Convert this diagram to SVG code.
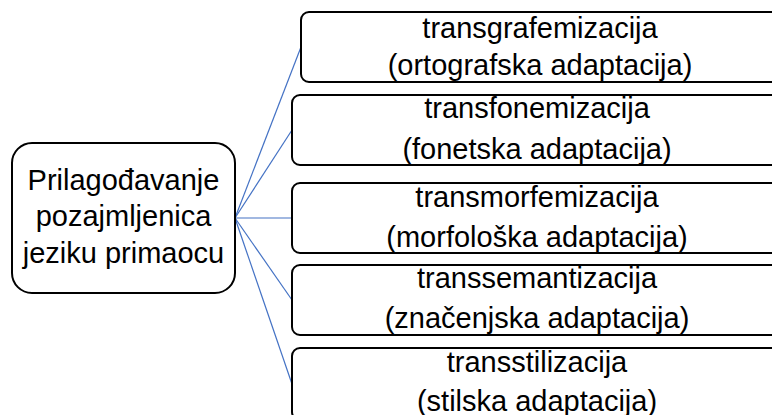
<svg xmlns="http://www.w3.org/2000/svg" width="772" height="415" viewBox="0 0 772 415">
<style>
.box{fill:#fff;stroke:#000;stroke-width:2}
.t{font-family:"Liberation Sans",Arial,sans-serif;font-size:29px;fill:#000;text-anchor:middle}
.c{stroke:#4472C4;stroke-width:1.2;fill:none}
</style>
<rect width="772" height="415" fill="#fff"/>
<g id="connectors">
<line class="c" x1="235" y1="218" x2="301" y2="47"/>
<line class="c" x1="235" y1="218" x2="292" y2="130"/>
<line class="c" x1="235" y1="218" x2="292" y2="218"/>
<line class="c" x1="235" y1="218" x2="292" y2="300"/>
<line class="c" x1="235" y1="218" x2="292" y2="384"/>
</g>
<g id="root">
<rect class="box" x="12" y="143" width="223" height="150" rx="20"/>
<text class="t" x="123.5" y="190">Prilagođavanje</text>
<text class="t" x="123.5" y="226">pozajmljenica</text>
<text class="t" x="123.5" y="263">jeziku primaocu</text>
</g>
<g id="n1">
<rect class="box" x="301" y="12" width="485" height="70" rx="8"/>
<text class="t" x="540" y="38">transgrafemizacija</text>
<text class="t" x="540" y="75">(ortografska adaptacija)</text>
</g>
<g id="n2">
<rect class="box" x="292" y="95" width="494" height="70" rx="8"/>
<text class="t" x="537" y="118">transfonemizacija</text>
<text class="t" x="537" y="159">(fonetska adaptacija)</text>
</g>
<g id="n3">
<rect class="box" x="292" y="183" width="494" height="70" rx="8"/>
<text class="t" x="537" y="207">transmorfemizacija</text>
<text class="t" x="537" y="247">(morfološka adaptacija)</text>
</g>
<g id="n4">
<rect class="box" x="292" y="265" width="494" height="70" rx="8"/>
<text class="t" x="537" y="288">transsemantizacija</text>
<text class="t" x="537" y="328">(značenjska adaptacija)</text>
</g>
<g id="n5">
<rect class="box" x="292" y="348" width="494" height="72" rx="8"/>
<text class="t" x="537" y="372">transstilizacija</text>
<text class="t" x="537" y="411">(stilska adaptacija)</text>
</g>
</svg>
